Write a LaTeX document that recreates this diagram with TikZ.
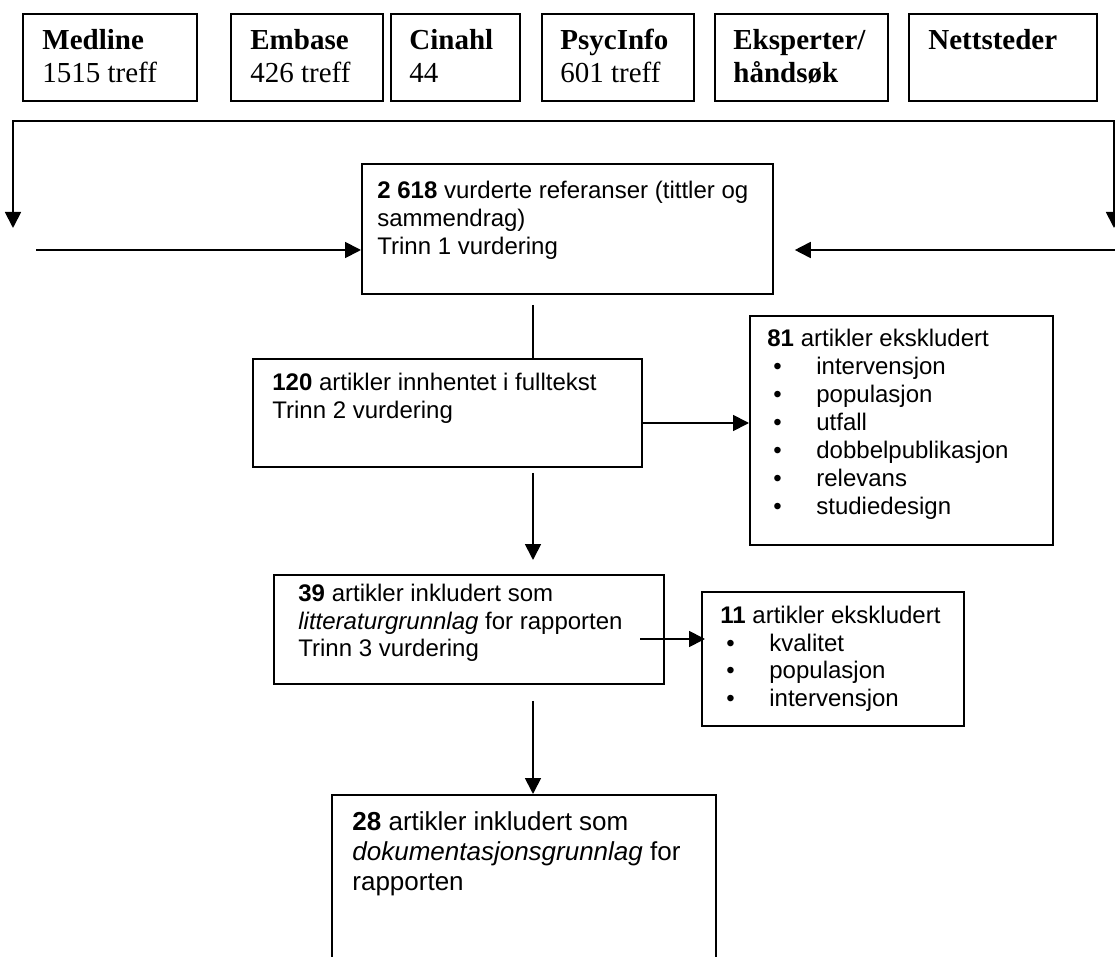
\documentclass[tikz,border=0pt]{standalone}
\usepackage{fontspec}
\setmainfont{Liberation Sans}
\newfontfamily\srcfont{Liberation Serif}
\usetikzlibrary{arrows.meta}

\newcommand{\itm}[1]{\makebox[24.5pt][l]{\hspace{3pt}\textbullet}#1}
\newcommand{\boxlines}[1]{\begin{tabular}[t]{@{}l@{}}#1\end{tabular}}

\begin{document}
\begin{tikzpicture}[x=0.5pt,y=-0.5pt,
  >={Triangle[length=8pt,width=8pt]},
  box/.style={draw=black,line width=0.9pt,anchor=north west,inner sep=0pt},
  txt/.style={anchor=base west,inner sep=0pt,font=\fontsize{12pt}{14pt}\selectfont},
  srctxt/.style={anchor=base west,inner sep=0pt,font=\srcfont\fontsize{14.5pt}{16.5pt}\selectfont},
  conn/.style={draw=black,line width=0.9pt}]
          \useasboundingbox (0,0) rectangle (1115,957);
          \node[box,minimum width=87pt,minimum height=43.5pt] (medline) at (22,13) {};
          \node[srctxt] (medlinet) at ([xshift=10pt,yshift=-18.5pt]medline.north west) {\boxlines{\textbf{Medline}\\1515 treff}};
          \node[box,minimum width=76pt,minimum height=43.5pt] (embase) at (230,13) {};
          \node[srctxt] (embaset) at ([xshift=10pt,yshift=-18.5pt]embase.north west) {\boxlines{\textbf{Embase}\\426 treff}};
          \node[box,minimum width=64.5pt,minimum height=43.5pt] (cinahl) at (390,13) {};
          \node[srctxt] (cinahlt) at ([xshift=9.5pt,yshift=-18.5pt]cinahl.north west) {\boxlines{\textbf{Cinahl}\\44}};
          \node[box,minimum width=76pt,minimum height=43.5pt] (psycinfo) at (541,13) {};
          \node[srctxt] (psycinfot) at ([xshift=9.5pt,yshift=-18.5pt]psycinfo.north west) {\boxlines{\textbf{PsycInfo}\\601 treff}};
          \node[box,minimum width=86.5pt,minimum height=43.5pt] (eksp) at (714,13) {};
          \node[srctxt] (ekspt) at ([xshift=9.5pt,yshift=-18.5pt]eksp.north west) {\boxlines{\textbf{Eksperter/}\\\textbf{håndsøk}}};
          \node[box,minimum width=94pt,minimum height=43.5pt] (nett) at (908,13) {};
          \node[srctxt] (nettt) at ([xshift=10pt,yshift=-18.5pt]nett.north west) {\textbf{Nettsteder}};
          \node[box,minimum width=205.5pt,minimum height=65pt] (b1) at (361,163) {};
          \node[txt] (b1t) at ([xshift=8pt,yshift=-18pt]b1.north west) {\boxlines{\textbf{2 618} vurderte referanser (tittler og\\sammendrag)\\Trinn 1 vurdering}};
          \node[box,minimum width=194.5pt,minimum height=54pt] (b2) at (252,358) {};
          \node[txt] (b2t) at ([xshift=10pt,yshift=-16.5pt]b2.north west) {\boxlines{\textbf{120} artikler innhentet i fulltekst\\Trinn 2 vurdering}};
          \node[box,minimum width=151.5pt,minimum height=114.5pt] (ex1) at (749,315) {};
          \node[txt] (ex1t) at ([xshift=9pt,yshift=-16pt]ex1.north west) {\boxlines{\textbf{81} artikler ekskludert\\\itm{intervensjon}\\\itm{populasjon}\\\itm{utfall}\\\itm{dobbelpublikasjon}\\\itm{relevans}\\\itm{studiedesign}}};
          \node[box,minimum width=195pt,minimum height=54.5pt] (b3) at (273,574) {};
          \node[txt] (b3t) at ([xshift=12.5pt,yshift=-13.5pt]b3.north west) {\boxlines{\textbf{39} artikler inkludert som\\\textit{litteraturgrunnlag} for rapporten\\Trinn 3 vurdering}};
          \node[box,minimum width=131pt,minimum height=67pt] (ex2) at (701,591) {};
          \node[txt] (ex2t) at ([xshift=9.5pt,yshift=-16pt]ex2.north west) {\boxlines{\textbf{11} artikler ekskludert\\\itm{kvalitet}\\\itm{populasjon}\\\itm{intervensjon}}};
          \node[box,minimum width=192pt,minimum height=100pt] (b4) at (331,794) {};
          \node[txt,font=\fontsize{13pt}{15pt}\selectfont] (b4t) at ([xshift=10.5pt,yshift=-18pt]b4.north west) {\boxlines{\textbf{28} artikler inkludert som\\\textit{dokumentasjonsgrunnlag} for\\rapporten}};
          \coordinate (spine) at (533,0);
          \coordinate (top) at (0,121);
          \coordinate (loopL) at (13,228);
          \coordinate (loopR) at (1114,228);
          \coordinate (inL) at (36,250);
          \coordinate (inR) at (1120,250);
          \coordinate (r2) at (0,423);
          \coordinate (r3) at (640,639);
          \draw[conn,<->] (loopL) -- (loopL |- top) -- (loopR |- top) -- (loopR);
          \draw[conn,->] (inL) -- (inL -| b1.west);
          \draw[conn,->,shorten >=10.5pt] (inR) -- (inR -| b1.east);
          \draw[conn,shorten <=5pt] (b1.south -| spine) -- (b2.north -| spine);
          \draw[conn,->] (b2.east |- r2) -- (ex1.west |- r2);
          \draw[conn,->,shorten <=2.5pt,shorten >=7pt] (b2.south -| spine) -- (b3.north -| spine);
          \draw[conn,->,shorten >=-2pt] (r3) -- (r3 -| ex2.west);
          \draw[conn,->,shorten <=8pt] (b3.south -| spine) -- (b4.north -| spine);
\end{tikzpicture}
\end{document}
